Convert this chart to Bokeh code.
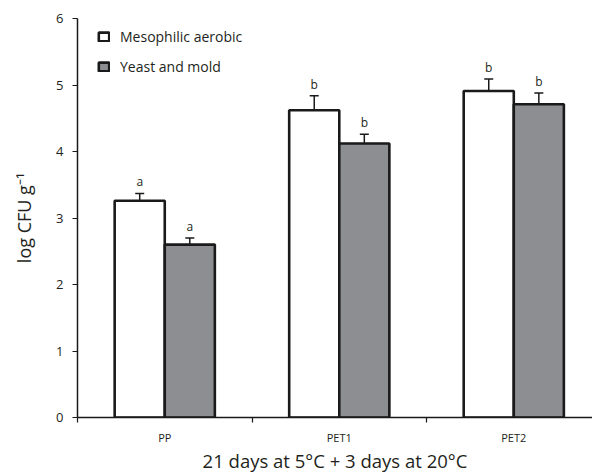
import numpy as np
from bokeh.plotting import figure
from bokeh.models import (ColumnDataSource, Range1d, FixedTicker, Whisker, TeeHead,
                          Legend, LegendItem)
from bokeh.core.properties import value
from bokeh.embed import file_html
from bokeh.resources import INLINE

categories = ["PP", "PET1", "PET2"]
series_names = ["Mesophilic aerobic", "Yeast and mold"]
meso = [3.26, 4.62, 4.91]
meso_err = [0.11, 0.22, 0.18]
yeast = [2.60, 4.12, 4.71]
yeast_err = [0.10, 0.14, 0.17]
meso_letters = ["a", "b", "b"]
yeast_letters = ["a", "b", "b"]
y_ticks = [0, 1, 2, 3, 4, 5, 6]
x_title = "21 days at 5°C + 3 days at 20°C"
y_title = "log CFU g⁻¹"

FONT = "Open Sans"
TXT = "#231f20"
GRAY = "#8d8e91"
bw = 0.287

centers = np.arange(len(categories)) + 0.5

p = figure(width=592, height=475, output_backend="svg", toolbar_location=None,
           x_range=Range1d(0, 2.951), y_range=Range1d(0, 6),
           min_border_left=77, min_border_right=0, min_border_top=18, min_border_bottom=57)
p.outline_line_color = None
p.xgrid.visible = False
p.ygrid.visible = False
p.background_fill_color = "white"
p.border_fill_color = "white"

def mk(vals, errs, letters, off):
    v = np.array(vals)
    e = np.array(errs)
    return ColumnDataSource(dict(x=centers + off, top=v, lo=v - e, hi=v + e, lab=letters))

s1 = mk(meso, meso_err, meso_letters, -bw / 2)
s2 = mk(yeast, yeast_err, yeast_letters, bw / 2)

r1 = p.vbar(x="x", top="top", width=bw, source=s1, fill_color="white",
            line_color="#1a1a1a", line_width=2.6)
r2 = p.vbar(x="x", top="top", width=bw, source=s2, fill_color=GRAY,
            line_color="#1a1a1a", line_width=2.6)

for s in (s1, s2):
    w = Whisker(base="x", lower="lo", upper="hi", source=s, line_color="#1a1a1a", line_width=1.5,
                upper_head=TeeHead(size=9, line_color="#1a1a1a", line_width=1.5),
                lower_head=TeeHead(size=9, line_color="#1a1a1a", line_width=1.5))
    p.add_layout(w)
    p.text(x="x", y="hi", text="lab", source=s, text_align="center", text_baseline="bottom",
           y_offset=-3, text_font=value(FONT), text_font_size="12px", text_color=TXT)

# axes
yax = p.yaxis[0]
yax.ticker = FixedTicker(ticks=y_ticks, minor_ticks=[])
yax.axis_label = y_title
yax.axis_label_text_font = FONT
yax.axis_label_text_font_size = "18px"
yax.axis_label_text_font_style = "normal"
yax.axis_label_text_color = TXT
yax.axis_label_standoff = 17
yax.major_label_text_font = FONT
yax.major_label_text_font_size = "13px"
yax.major_label_text_color = TXT
yax.major_label_standoff = 9
yax.major_tick_out = 5
yax.major_tick_in = 0
yax.axis_line_width = 1.5
yax.major_tick_line_width = 1.2
yax.axis_line_color = "#1a1a1a"
yax.major_tick_line_color = "#1a1a1a"

xax = p.xaxis[0]
xax.ticker = FixedTicker(ticks=list(centers), minor_ticks=list(range(len(categories) + 1)))
xax.major_label_overrides = {float(c): name for c, name in zip(centers, categories)}
xax.major_tick_out = 0
xax.major_tick_in = 0
xax.minor_tick_out = 5
xax.minor_tick_in = 0
xax.minor_tick_line_color = "#1a1a1a"
xax.minor_tick_line_width = 1.2
xax.axis_line_width = 1.5
xax.axis_line_color = "#1a1a1a"
xax.major_label_text_font = FONT
xax.major_label_text_font_size = "11px"
xax.major_label_text_color = TXT
xax.major_label_standoff = 7
xax.axis_label = x_title
xax.axis_label_text_font = FONT
xax.axis_label_text_font_size = "18.5px"
xax.axis_label_text_font_style = "normal"
xax.axis_label_text_color = TXT
xax.axis_label_standoff = 0

legend = Legend(items=[LegendItem(label=series_names[0], renderers=[r1]),
                       LegendItem(label=series_names[1], renderers=[r2])],
                location=(20, 341), margin=0, padding=0, spacing=11,
                glyph_width=13, glyph_height=11, label_height=11, label_standoff=10,
                label_text_font=FONT, label_text_font_size="14px", label_text_color=TXT,
                border_line_color=None, background_fill_alpha=0)
p.add_layout(legend)

open("out.html", "w").write(file_html(p, INLINE))
